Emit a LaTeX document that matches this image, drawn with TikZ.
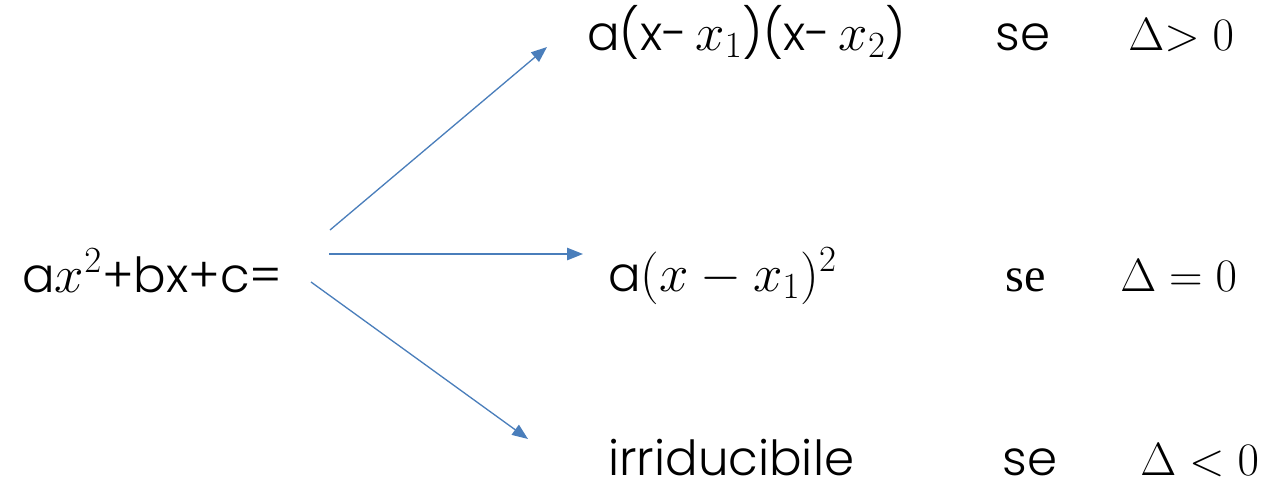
\RequirePackage{fix-cm}
\documentclass[tikz,border=0pt]{standalone}
\usepackage[no-math]{fontspec}
\setmainfont{Poppins}[UprightFont=* Light]
\newfontfamily\serif{Liberation Serif}
\usetikzlibrary{arrows.meta}
\definecolor{linea}{HTML}{4A7EBB}
\newcommand{\mat}[1]{{\fontsize{30}{34}\selectfont$#1$}}
\newcommand{\cond}[1]{{\fontsize{26.5}{34}\selectfont$#1$}}

\begin{document}
\begin{tikzpicture}[x=0.02cm, y=-0.02cm,
        txt/.style={anchor=base west, inner sep=0pt, font=\fontsize{27.5}{34}\selectfont},
        freccia/.style={draw=linea, line width=0.75pt,
                        -{Triangle[length=9pt, width=7pt]}},
    ]
    \useasboundingbox (0,0) rectangle (1267,484);
    % polinomio
    \node[txt] (poly) at (22,292) {a\mat{x^2}+bx+c=};
    % Delta > 0
    \node[txt] (fatt1) at (587,50) {a(x-\,\mat{x_1})(x-\,\mat{x_2})};
    \node[txt] (se1)   at (995,50) {se};
    \node[txt] (del1)  at (1128,50) {\cond{\Delta{>}\ 0}};
    % Delta = 0
    \node[txt] (fatt2) at (608,291) {a\mat{(x-x_1)^2}};
    \node[txt] (se2)   at (1005,291) {\serif se};
    \node[txt] (del2)  at (1120,291) {\cond{\Delta=0}};
    % Delta < 0
    \node[txt] (fatt3) at (608,475) {irriducibile};
    \node[txt] (se3)   at (1002,475) {se};
    \node[txt] (del3)  at (1140,475) {\cond{\Delta<0}};
    % frecce
    \coordinate (p1) at (330,230);
    \coordinate (p2) at (329,254);
    \coordinate (p3) at (311,282);
    \coordinate (q1) at (547,47);
    \coordinate (q2) at (583,254);
    \coordinate (q3) at (528,439);
    \draw[freccia] (p1) -- (q1);
    \draw[freccia] (p2) -- (q2);
    \draw[freccia] (p3) -- (q3);
\end{tikzpicture}
\end{document}
